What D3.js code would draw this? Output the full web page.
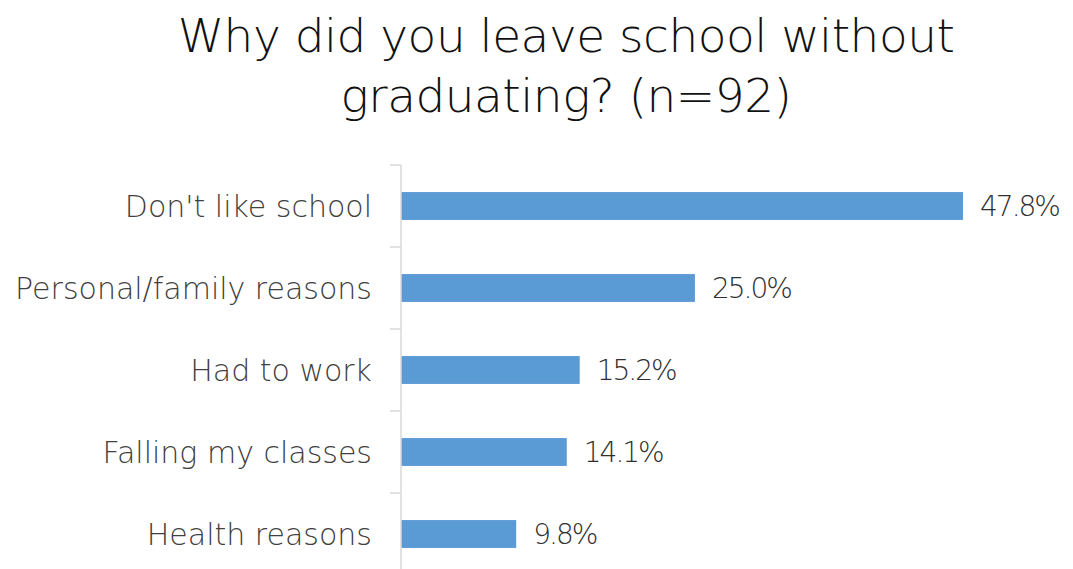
<!DOCTYPE html>
<html>
<head>
<meta charset="utf-8">
<script src="https://cdn.jsdelivr.net/npm/d3@7"></script>
<style>
  html, body { margin: 0; padding: 0; background: #fff; }
  svg { display: block; }
  text { font-family: "DejaVu Sans", sans-serif; }
</style>
</head>
<body>
<svg id="chart" width="1073" height="569"></svg>
<script>
// Survey responses: reasons for leaving school (n=92)
const categories = [
  "Don't like school",
  "Personal/family reasons",
  "Had to work",
  "Falling my classes",
  "Health reasons"
];
const values = [47.8, 25.0, 15.2, 14.1, 9.8];
const valueLabels = ["47.8%", "25.0%", "15.2%", "14.1%", "9.8%"];
const titleLines = ["Why did you leave school without", "graduating? (n=92)"];

const svg = d3.select("#chart");
const W = 1073, H = 569;
const axisX = 401;

const x = d3.scaleLinear().domain([0, 47.8]).range([axisX, 963]);
const y = d3.scaleBand().domain(categories).range([165, 575]).paddingInner(0.66).paddingOuter(0.33);

// Title
svg.append("g").selectAll("text")
  .data(titleLines)
  .join("text")
  .attr("x", 566)
  .attr("y", (d, i) => 52 + i * 60)
  .attr("text-anchor", "middle")
  .attr("font-size", 47)
  .attr("font-weight", 300)
  .attr("letter-spacing", -0.5)
  .attr("fill", "#111")
  .text(d => d);

// Bars
svg.append("g").selectAll("rect")
  .data(values)
  .join("rect")
  .attr("x", x(0))
  .attr("y", (d, i) => y(categories[i]))
  .attr("width", d => x(d) - x(0))
  .attr("height", y.bandwidth())
  .attr("fill", "#5b9bd5");

// Category axis with boundary ticks
const axisG = svg.append("g");
axisG.append("line")
  .attr("x1", axisX).attr("x2", axisX)
  .attr("y1", 165).attr("y2", H)
  .attr("stroke", "#d9d9d9").attr("stroke-width", 1.5);
const step = y.step();
axisG.selectAll("line.tick")
  .data(d3.range(categories.length + 1))
  .join("line")
  .attr("class", "tick")
  .attr("x1", axisX - 11).attr("x2", axisX)
  .attr("y1", i => 165 + i * step).attr("y2", i => 165 + i * step)
  .attr("stroke", "#d9d9d9").attr("stroke-width", 1.5);

// Category labels
svg.append("g").selectAll("text")
  .data(categories)
  .join("text")
  .attr("x", 372)
  .attr("y", d => y(d) + y.bandwidth() / 2)
  .attr("dy", "0.35em")
  .attr("text-anchor", "end")
  .attr("font-size", 30)
  .attr("font-weight", 200)
  .attr("fill", "#404040")
  .text(d => d);

// Value labels
svg.append("g").selectAll("text")
  .data(values)
  .join("text")
  .attr("x", d => x(d) + 17)
  .attr("y", (d, i) => y(categories[i]) + y.bandwidth() / 2)
  .attr("dy", "0.35em")
  .attr("font-size", 28)
  .attr("font-weight", 200)
  .attr("letter-spacing", -2)
  .attr("fill", "#303030")
  .text((d, i) => valueLabels[i]);
</script>
</body>
</html>
